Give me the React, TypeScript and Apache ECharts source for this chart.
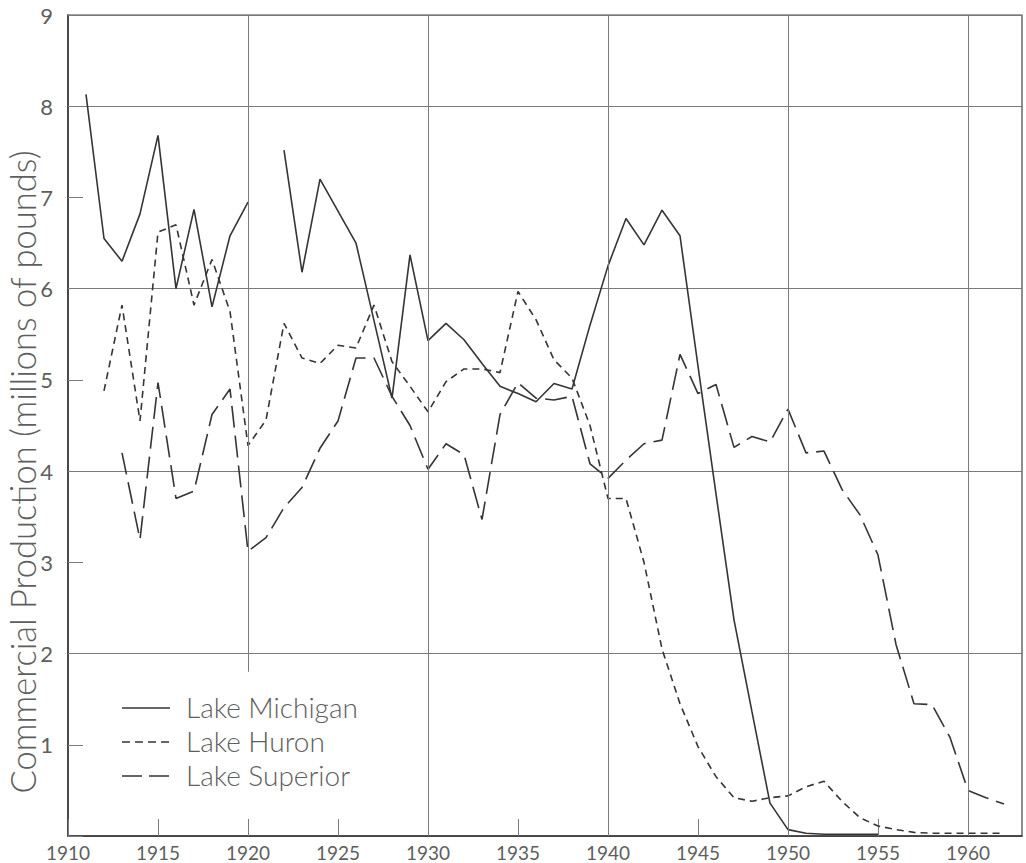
import React, { useEffect, useRef } from "react";
import * as echarts from "echarts";

// Lake Michigan, 1911–1955 (no value for 1921)
const michigan: (number | null)[] = [
  8.13, 6.55, 6.3, 6.82, 7.68, 6.0, 6.87, 5.8, 6.58, 6.95,
  null, 7.52, 6.18, 7.2, 6.85, 6.5, 5.65, 4.8, 6.37, 5.43,
  5.62, 5.44, 5.18, 4.93, 4.85, 4.76, 4.96, 4.9, 5.6, 6.25,
  6.77, 6.48, 6.86, 6.58, 5.15, 3.75, 2.37, 1.36, 0.36, 0.07,
  0.03, 0.02, 0.02, 0.02, 0.02,
];

// Lake Huron, 1912–1962
const huron: number[] = [
  4.88, 5.82, 4.55, 6.62, 6.7, 5.82, 6.32, 5.75, 4.28,
  4.56, 5.62, 5.24, 5.18, 5.38, 5.35, 5.82, 5.2, 4.93, 4.65,
  4.98, 5.12, 5.12, 5.08, 5.97, 5.66, 5.22, 5.02, 4.5, 3.7,
  3.7, 3.0, 2.05, 1.45, 0.98, 0.65, 0.42, 0.38, 0.42, 0.44,
  0.54, 0.6, 0.38, 0.2, 0.11, 0.07, 0.04, 0.03, 0.03, 0.03,
  0.03, 0.03,
];

// Lake Superior, 1913–1962
const superior: number[] = [
  4.2, 3.25, 4.97, 3.7, 3.78, 4.62, 4.9, 3.12,
  3.27, 3.6, 3.82, 4.25, 4.55, 5.24, 5.24, 4.82, 4.5, 4.02,
  4.3, 4.18, 3.47, 4.62, 4.97, 4.8, 4.78, 4.82, 4.08, 3.92,
  4.12, 4.3, 4.34, 5.28, 4.85, 4.95, 4.26, 4.38, 4.32, 4.68,
  4.2, 4.22, 3.8, 3.52, 3.08, 2.1, 1.45, 1.44, 1.08, 0.5,
  0.42, 0.35,
];

const seriesNames = ["Lake Michigan", "Lake Huron", "Lake Superior"];
const startYears = [1911, 1912, 1913];
const yTitle = "Commercial Production (millions of pounds)";
const verticalGridYears = [1920, 1930, 1940, 1950, 1960];

const FONT = "Lato, 'DejaVu Sans', sans-serif";
const LINE = "#353535";
const GRID = "#7a7a7a";
const TEXT = "#5e5e5e";

function pairs(start: number, vals: (number | null)[]) {
  return vals.map((v, i) => [start + i, v]);
}

export default function App() {
  const ref = useRef<HTMLDivElement>(null);
  useEffect(() => {
    if (!ref.current) return;
    const chart = echarts.init(ref.current, undefined, { renderer: "svg" });
    const dashes = ["solid", [7, 5], [22, 8]];
    const datasets = [michigan, huron, superior];
    const option: any = {
      animation: false,
      backgroundColor: "#ffffff",
      grid: {
        left: 68,
        right: 4,
        top: 15,
        bottom: 27,
        show: true,
        borderColor: "#444",
        borderWidth: 1.2,
      },
      xAxis: {
        type: "value",
        min: 1910,
        max: 1963,
        interval: 5,
        axisLine: { show: true, lineStyle: { color: "#333", width: 1.5 } },
        axisTick: { show: true, inside: true, length: 17, lineStyle: { color: GRID } },
        axisLabel: {
          showMaxLabel: false,
          margin: 7,
          color: TEXT,
          fontFamily: FONT,
          fontSize: 19,
          formatter: (v: number) => String(v),
        },
        splitLine: { show: false },
      },
      yAxis: [
        {
          type: "value",
          min: 0,
          max: 9,
          interval: 1,
          axisLine: { show: true, lineStyle: { color: "#333", width: 1.5 } },
          axisTick: { show: true, inside: true, length: 15, lineStyle: { color: GRID } },
          axisLabel: {
            margin: 15,
            color: TEXT,
            fontFamily: FONT,
            fontSize: 22,
            formatter: (v: number) => (v === 0 ? "" : String(v)),
          },
          splitLine: { show: false },
        },
        {
          type: "value",
          min: 0,
          max: 9,
          interval: 2,
          position: "left",
          axisLine: { show: false },
          axisTick: { show: false },
          axisLabel: { show: false },
          splitLine: { show: true, lineStyle: { color: GRID, width: 1 } },
        },
      ],
      series: [
        {
          name: "grid",
          type: "line",
          data: [],
          silent: true,
          markLine: {
            silent: true,
            symbol: "none",
            label: { show: false },
            lineStyle: { color: GRID, width: 1, type: "solid" },
            data: verticalGridYears.map((yr) => [
              { coord: [yr, yr === 1920 ? 1.8 : 0] },
              { coord: [yr, 9] },
            ]),
          },
        },
        ...datasets.map((d, i) => ({
          name: seriesNames[i],
          type: "line",
          data: pairs(startYears[i], d),
          symbol: "none",
          showSymbol: false,
          connectNulls: false,
          lineStyle: { color: LINE, width: 1.6, type: dashes[i] },
          z: 3,
        })),
      ],
      graphic: [
        {
          type: "text",
          x: 22,
          y: 472,
          rotation: Math.PI / 2,
          style: {
            text: yTitle,
            fill: TEXT,
            font: `300 34.5px ${FONT}`,
            align: "center",
            verticalAlign: "middle",
          },
        },
        ...seriesNames.map((n, i) => ({
          type: "group",
          children: [
            {
              type: "line",
              shape: { x1: 122, y1: 708 + i * 34, x2: 170, y2: 708 + i * 34 },
              style: {
                stroke: LINE,
                lineWidth: 1.6,
                lineDash: i === 0 ? null : i === 1 ? [8, 5] : [20, 7],
              },
            },
            {
              type: "text",
              x: 186,
              y: 707 + i * 34,
              style: {
                text: n,
                fill: TEXT,
                font: `300 28px ${FONT}`,
                align: "left",
                verticalAlign: "middle",
              },
            },
          ],
        })),
      ],
    };
    chart.setOption(option);
    return () => chart.dispose();
  }, []);
  return (
    <div
      ref={ref}
      style={{ position: "fixed", left: 0, top: 0, width: 1026, height: 863, background: "#fff" }}
    />
  );
}
